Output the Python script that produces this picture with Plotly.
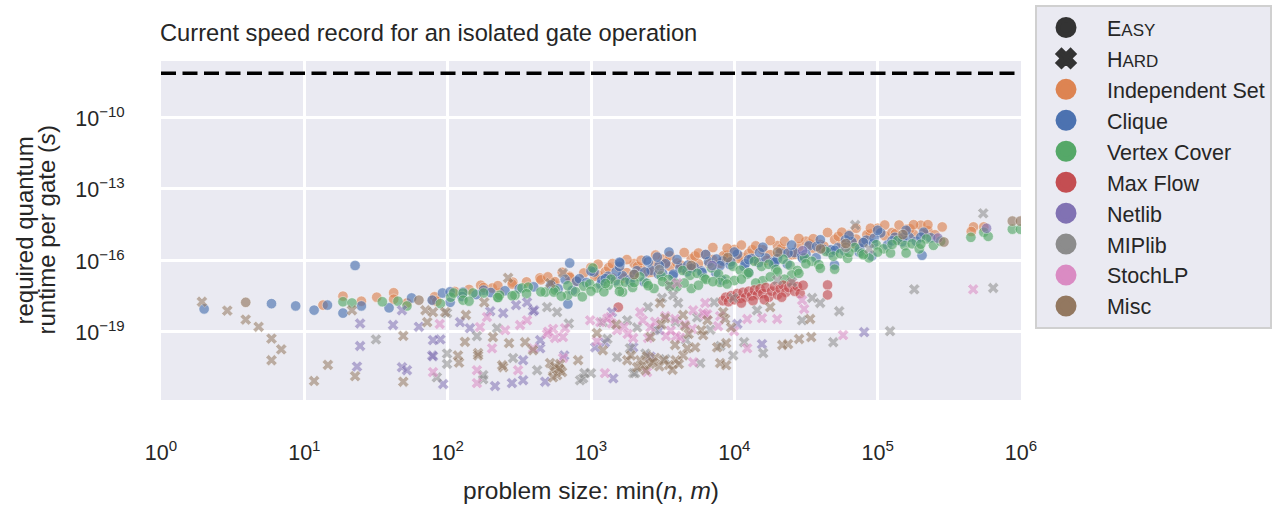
import plotly.graph_objects as go

BG = "#eaeaf2"
TEXT = "#262626"
FONT = "Liberation Sans, Arial, sans-serif"

# ---------------- data ----------------
speed_record = 7.1e-9  # current speed record for an isolated gate operation (s)

categories = ["Independent Set", "Clique", "Vertex Cover", "Max Flow",
              "Netlib", "MIPlib", "StochLP", "Misc"]
palette = ["#DD8452", "#4C72B0", "#55A868", "#C44E52",
           "#8172B3", "#8C8C8C", "#DA8BC3", "#937860"]

x_tickvals = [1, 10, 100, 1e3, 1e4, 1e5, 1e6]
x_ticktext = ["10<sup>0</sup>", "10<sup>1</sup>", "10<sup>2</sup>", "10<sup>3</sup>",
              "10<sup>4</sup>", "10<sup>5</sup>", "10<sup>6</sup>"]
y_tickvals = [1e-19, 1e-16, 1e-13, 1e-10]
y_ticktext = ["10<sup>\u221219</sup>", "10<sup>\u221216</sup>",
              "10<sup>\u221213</sup>", "10<sup>\u221210</sup>"]
y_title_lines = ["required quantum", "runtime per gate (<i>s</i>)"]

# EASY instances (circles): (problem size, runtime per gate)
indep_set_easy = [
    (13.5, 1.3e-18), (18.6, 3.1e-18), (25, 1.9e-18), (32, 2.8e-18), (42, 4.3e-18),
    (42, 2.3e-18), (52, 1.6e-18), (79, 2.1e-18), (81, 2.9e-18), (84, 1.9e-18),
    (170, 8.9e-18), (205, 6.8e-18), (230, 4.2e-18), (285, 1.2e-17), (440, 1.8e-17),
    (545, 1.1e-17),
    (112, 4.9e-18), (141, 5.9e-18), (178, 7.1e-18), (224, 8.5e-18), (282, 1.0e-17),
    (355, 1.23e-17), (447, 1.5e-17), (708, 2.1e-17),
    (500, 2.0e-17), (560, 1.26e-17), (630, 3.1e-17), (710, 1.9e-17), (790, 1.3e-17),
    (890, 2.9e-17), (1000, 5.0e-17), (1120, 2.4e-17), (1260, 3.3e-17), (1410, 1.8e-17),
    (1580, 4.9e-17), (1780, 3.0e-17), (2000, 7.2e-17), (2240, 4.4e-17), (2510, 3.0e-17),
    (2820, 6.5e-17), (3160, 1.1e-16), (3550, 5.5e-17), (3980, 7.6e-17), (4470, 4.2e-17),
    (5010, 1.15e-16), (5620, 7.1e-17), (6310, 1.7e-16), (7080, 1.07e-16), (7940, 7.4e-17),
    (8910, 1.6e-16), (10000, 2.8e-16), (11200, 1.36e-16), (12600, 1.9e-16), (14100, 1.0e-16),
    (15800, 2.75e-16), (17800, 1.7e-16), (20000, 4.1e-16), (22400, 2.5e-16), (25100, 1.7e-16),
    (28200, 3.7e-16), (31600, 6.3e-16), (35500, 3.2e-16), (39800, 4.6e-16), (44700, 2.6e-16),
    (50100, 7.4e-16), (56200, 4.7e-16), (63100, 1.2e-15), (70800, 7.7e-16), (79400, 5.5e-16),
    (89100, 1.25e-15), (100000, 2.2e-15), (112000, 1.07e-15), (126000, 1.45e-15),
    (141000, 7.6e-16), (158000, 2.0e-15), (178000, 1.23e-15), (200000, 2.95e-15),
    (224000, 1.74e-15), (251000, 1.17e-15), (282000, 2.5e-15),
    (1060, 2.1e-17), (1330, 4.9e-17), (1680, 1.8e-17), (2110, 5.4e-17), (2660, 3.2e-17),
    (3350, 8.3e-17), (4220, 6.3e-17), (5310, 1.5e-16), (6680, 7.2e-17), (8410, 1.55e-16),
    (10600, 1.17e-16), (13300, 2.75e-16), (16800, 1.0e-16), (21100, 3.0e-16), (26600, 1.8e-16),
    (33500, 4.8e-16), (42200, 3.9e-16), (53100, 1.0e-15), (66800, 5.1e-16), (84100, 1.17e-15),
    (133000, 1.3e-15), (168000, 2.1e-15), (211000, 1.35e-15),
    (1120, 6.8e-17), (1410, 7.2e-17), (1780, 1.06e-16), (2240, 9.9e-17), (2820, 1.64e-16),
    (3550, 1.55e-16), (4470, 2.1e-16), (5620, 2.0e-16), (7080, 3.4e-16), (8910, 3.2e-16),
    (11200, 4.3e-16), (14100, 4.0e-16), (17800, 6.7e-16), (22400, 6.2e-16), (28200, 8.2e-16),
    (35500, 8.0e-16), (44700, 1.46e-15), (56200, 1.5e-15), (70800, 2.2e-15), (89100, 2.2e-15),
    (112000, 3.0e-15), (141000, 3.0e-15), (178000, 3.1e-15), (224000, 3.1e-15),
    (466000, 2.5e-15), (450000, 1.6e-15), (550000, 2.5e-15),
]

clique_easy = [
    (2, 9e-19), (5.9, 1.5e-18), (8.7, 1.2e-18), (11.7, 8e-19), (14.5, 1.3e-18),
    (18.6, 6e-19), (22.6, 6e-17), (25, 1.2e-18), (39, 1.0e-18), (56, 2.6e-18),
    (78, 2.1e-18), (92, 4.2e-18), (104, 4.7e-18), (104, 1.7e-18), (128, 4.6e-18),
    (178, 5.5e-18), (690, 1.45e-18), (710, 7.6e-17),
    (126, 3.0e-18), (158, 3.6e-18), (200, 4.4e-18), (251, 5.2e-18), (316, 6.3e-18),
    (398, 7.6e-18), (794, 1.3e-17),
    (525, 9.1e-18), (590, 6.3e-18), (660, 1.55e-17), (740, 5.4e-18), (830, 1.66e-17),
    (930, 1.15e-17), (1050, 3.2e-17), (1170, 9.7e-18), (1320, 2.1e-17), (1480, 1.4e-17),
    (1660, 2.2e-17), (1860, 1.5e-17), (2090, 3.6e-17), (2340, 1.25e-17), (2630, 3.8e-17),
    (2950, 2.6e-17), (3310, 7.1e-17), (3720, 2.2e-17), (4170, 4.8e-17), (4680, 3.3e-17),
    (5250, 5.1e-17), (5890, 3.5e-17), (6610, 8.7e-17), (7410, 3.0e-17), (8320, 9.3e-17),
    (9330, 6.5e-17), (10500, 1.8e-16), (11700, 5.4e-17), (13200, 1.17e-16), (14800, 8.0e-17),
    (16600, 1.23e-16), (18600, 8.4e-17), (20900, 2.0e-16), (23400, 7.0e-17), (26300, 2.1e-16),
    (29500, 1.46e-16), (33100, 4.0e-16), (37200, 1.27e-16), (41700, 2.9e-16), (46800, 2.1e-16),
    (52500, 3.3e-16), (58900, 2.4e-16), (66100, 6.0e-16), (74100, 2.2e-16), (83200, 6.9e-16),
    (93300, 5.0e-16), (105000, 1.4e-15), (117000, 4.3e-16), (132000, 9.1e-16),
    (148000, 6.0e-16), (166000, 9.1e-16), (186000, 6.2e-16), (209000, 1.5e-15),
    (234000, 8.7e-16),
    (1190, 1.4e-17), (1500, 3.3e-17), (1880, 1.23e-17), (2370, 3.2e-17), (2990, 6.0e-17),
    (3760, 2.6e-17), (4730, 6.2e-17), (5960, 3.0e-17), (7500, 1.12e-16), (9440, 8.5e-17),
    (11900, 7.1e-17), (15000, 2.1e-16), (18800, 6.9e-17), (23700, 2.0e-16), (29900, 1.2e-16),
    (37600, 3.8e-16), (47300, 2.75e-16), (59600, 7.1e-16), (75000, 3.2e-16), (94400, 8.3e-16),
    (150000, 8.9e-16),
    (1000, 3.5e-17), (1260, 1.66e-17), (1580, 5.5e-17), (2000, 2.6e-17), (2510, 8.5e-17),
    (3160, 2.8e-17), (3980, 1.07e-16), (5010, 4.6e-17), (6310, 1.74e-16), (7940, 5.9e-17),
    (10000, 2.2e-16), (12600, 1.05e-16), (15800, 3.5e-16), (20000, 1.15e-16), (25100, 4.3e-16),
    (31600, 1.8e-16), (39800, 7.2e-16), (50100, 2.6e-16), (63100, 1.07e-15), (79400, 5.5e-16),
    (100000, 1.8e-15), (126000, 6.5e-16), (158000, 1.8e-15), (200000, 9.3e-16),
    (91000, 1.5e-16), (204000, 1.6e-16), (50000, 6.3e-17), (1600, 7.6e-17), (3500, 2.2e-16),
    (2900, 1.35e-16), (8200, 1.45e-17), (12600, 2.9e-17), (19200, 8.3e-17), (1580, 8.3e-17),
    (2450, 1.0e-16),
]

vertex_cover_easy = [
    (18.6, 1.8e-18), (21.5, 1.6e-18), (35, 1.8e-18), (45, 1.9e-18), (52, 1.2e-18),
    (89, 1.5e-18), (105, 2.8e-18), (110, 4.2e-18), (128, 4.2e-18), (128, 2.1e-18),
    (150, 4.2e-18), (178, 4.2e-18), (225, 2.8e-18), (230, 3.4e-18), (295, 3.4e-18),
    (330, 6.8e-18), (365, 7.4e-18), (480, 4.6e-18), (690, 3.4e-18), (1030, 4.7e-17),
    (1320, 8.9e-18), (1660, 4.6e-18),
    (141, 1.9e-18), (224, 2.7e-18), (282, 3.2e-18), (355, 3.9e-18), (447, 4.7e-18),
    (562, 5.6e-18), (891, 8.1e-18),
    (550, 4.6e-18), (620, 3.1e-18), (690, 8.5e-18), (780, 4.7e-18), (870, 2.9e-18),
    (980, 1.0e-17), (1100, 6.8e-18), (1230, 4.7e-18), (1380, 1.6e-17), (1550, 9.8e-18),
    (1740, 1.19e-17), (1950, 7.2e-18), (2190, 2.0e-17), (2450, 1.07e-17), (2750, 6.5e-18),
    (3090, 2.2e-17), (3470, 1.55e-17), (3890, 1.07e-17), (4370, 3.7e-17), (4900, 2.3e-17),
    (5500, 2.8e-17), (6170, 1.74e-17), (6920, 4.8e-17), (7760, 2.6e-17), (8710, 1.6e-17),
    (9770, 5.6e-17), (11000, 3.8e-17), (12300, 2.6e-17), (13800, 9.0e-17), (15500, 5.5e-17),
    (17400, 6.7e-17), (19500, 4.1e-17), (21900, 1.1e-16), (24500, 6.0e-17), (27500, 3.7e-17),
    (30900, 1.26e-16), (34700, 9.0e-17), (38900, 6.5e-17), (43700, 2.3e-16), (49000, 1.48e-16),
    (55000, 1.9e-16), (61700, 1.2e-16), (69200, 3.4e-16), (77600, 1.95e-16), (87100, 1.25e-16),
    (97700, 4.5e-16), (110000, 3.0e-16), (123000, 2.0e-16), (138000, 6.8e-16),
    (155000, 4.1e-16), (174000, 4.9e-16), (195000, 3.0e-16), (219000, 7.8e-16),
    (245000, 4.2e-16), (275000, 6.3e-16),
    (1000, 5.0e-18), (1260, 1.05e-17), (1580, 4.9e-18), (2000, 1.15e-17), (2510, 8.5e-18),
    (3160, 1.26e-17), (3980, 7.6e-18), (5010, 6.5e-18), (6310, 1.55e-17), (7940, 1.17e-17),
    (10000, 1.4e-17), (12600, 3.0e-17), (15800, 1.38e-17), (20000, 3.2e-17), (25100, 2.4e-17),
    (31600, 7.1e-17), (39800, 4.6e-17), (50100, 4.2e-17), (63100, 2.1e-16), (79400, 1.7e-16),
    (100000, 2.2e-16), (126000, 4.6e-16), (158000, 2.0e-16), (200000, 4.7e-16),
    (3550, 7.9e-18), (4470, 1.1e-17), (5620, 8.9e-18), (7080, 1.26e-17), (8910, 1.0e-17),
    (11200, 1.6e-17), (14100, 1.1e-17), (17800, 2.0e-17), (22400, 1.6e-17), (28200, 2.8e-17),
    (447000, 9.1e-16), (550000, 1.5e-15), (590000, 1.0e-15), (870000, 2.0e-15),
    (990000, 2.0e-15),
]

max_flow_easy = [
    (8300, 2.0e-18), (8700, 2.8e-18), (9100, 1.8e-18), (9500, 3.2e-18), (10000, 2.2e-18),
    (10500, 4.0e-18), (11000, 2.5e-18), (11500, 4.5e-18), (12000, 2.8e-18), (12600, 5.0e-18),
    (13200, 3.2e-18), (13800, 5.6e-18), (14500, 3.5e-18), (15100, 6.3e-18), (15800, 4.0e-18),
    (16600, 7.1e-18), (17400, 2.8e-18), (18200, 5.0e-18), (19100, 7.9e-18), (20000, 3.5e-18),
    (20900, 6.3e-18), (21900, 8.9e-18), (22900, 4.5e-18), (24000, 7.1e-18), (25100, 1.0e-17),
    (26300, 5.0e-18), (27500, 7.9e-18), (28800, 4.0e-18), (30200, 8.9e-18), (13500, 2.0e-18),
    (16200, 2.2e-18), (21400, 2.8e-18), (11200, 1.6e-18),
    (44700, 9.1e-18), (44700, 3.5e-18), (1550, 1.07e-18),
]

netlib_easy = [(263000, 8.5e-16), (575000, 2.2e-15), (30000, 2.5e-16), (7000, 6.0e-17)]
miplib_easy = [(3000, 4.0e-17), (60000, 3.5e-16)]
stochlp_easy = []
misc_easy = [
    (3.9, 1.7e-18), (63, 2.1e-18), (290000, 5.8e-16), (870000, 4.4e-15), (990000, 4.4e-15),
    (5000, 6.0e-17), (20000, 2.2e-16), (60000, 5.0e-16), (150000, 1.2e-15), (40000, 3.0e-16),
    (2000, 2.5e-17), (9000, 1.3e-16),
]

# HARD instances (crosses)
netlib_hard = [
    (23.3, 3.4e-21), (24.5, 2.2e-19), (24.5, 2.5e-20), (41.6, 1.9e-19), (48, 3.2e-21),
    (52, 2.4e-21), (48, 7.9e-19), (63, 1.6e-19), (78, 1.0e-20), (89, 4.7e-20),
    (93, 6.3e-22), (122, 2.5e-19), (198, 7.2e-19), (214, 5.2e-22), (336, 9.1e-22),
    (244, 6.0e-19), (394, 7.2e-19), (442, 2.0e-20), (1070, 2.2e-20), (300, 1.3e-18),
    (401, 7.9e-19), (358, 1.7e-18), (79, 4.4e-20), (143, 1.4e-19), (442, 4.4e-20),
    (336, 6.3e-21), (79, 9.3e-21), (281, 6.9e-22), (479, 7.9e-22), (1430, 1.1e-21),
    (1970, 2.2e-20), (1400, 6.6e-19), (2990, 1.15e-19), (10500, 2.1e-19), (15600, 3.0e-20),
    (80500, 9.5e-20), (650, 1.0e-20), (1250, 3.5e-20), (2600, 9.0e-21),
]

miplib_hard = [
    (31.6, 4.7e-20), (99, 1.2e-20), (99, 4.4e-21), (99, 6.0e-19), (177, 1.0e-21),
    (286, 7.8e-21), (494, 1.07e-18), (839, 9.1e-22), (638, 2.9e-17), (160, 6.5e-20),
    (221, 1.4e-19), (580, 6.6e-19), (84, 1.2e-21), (177, 1.5e-21), (421, 2.4e-21),
    (881, 1.1e-21), (1210, 2.5e-19), (1790, 3.0e-19), (2500, 1.07e-18), (1870, 2.0e-20),
    (1520, 8.5e-21), (1970, 1.8e-21), (1000, 1.8e-21), (3130, 2.6e-18), (3740, 3.4e-18),
    (4050, 1.6e-18), (3560, 8.9e-18), (5780, 4.8e-21), (9820, 1.0e-20), (11700, 3.6e-20),
    (7230, 1.7e-18), (9820, 2.6e-18), (14400, 7.9e-19), (15900, 1.26e-20), (19900, 1.45e-17),
    (25300, 1.2e-17), (34900, 2.6e-18), (29700, 3.0e-19), (39700, 1.6e-18), (53900, 7.2e-19),
    (49000, 3.6e-20), (69700, 3.0e-15), (87300, 3.0e-16), (122000, 1.05e-19),
    (180000, 6.0e-18), (545000, 9.3e-15), (640000, 6.8e-18),
    (700, 2.2e-19), (2800, 1.2e-19), (4600, 4.5e-20), (3300, 7.0e-21),
    (900, 1.8e-21), (2030, 1.8e-21), (1300, 5.0e-20), (2100, 1.5e-19), (3900, 2.5e-19),
    (5500, 4.0e-19), (6800, 1.2e-19), (8000, 2.5e-20), (2400, 1.2e-20),
]

stochlp_hard = [
    (88, 2.1e-19), (79, 2.0e-21), (168, 1.55e-19), (204, 2.0e-20), (160, 2.4e-21),
    (160, 6.9e-22), (310, 2.4e-21), (320, 1.9e-19), (561, 5.4e-20), (659, 1.4e-19),
    (188, 4.1e-19), (252, 1.15e-19), (358, 3.0e-19), (394, 2.0e-20), (544, 1.3e-19),
    (494, 7.9e-20), (638, 5.9e-20), (638, 7.8e-21), (986, 3.0e-19), (1160, 2.5e-19),
    (1520, 1.15e-19), (1970, 5.4e-20), (2500, 5.4e-20), (2200, 6.6e-19), (1360, 4.1e-19),
    (1250, 1.8e-21), (2460, 2.0e-21), (3340, 6.5e-20), (3920, 6.5e-20), (5080, 1.3e-19),
    (3860, 3.4e-19), (7710, 1.7e-19), (12300, 3.4e-19), (9970, 1.05e-19), (12300, 2.0e-20),
    (15600, 3.7e-19), (19900, 3.4e-19), (30700, 8.9e-19), (29700, 2.1e-18), (57400, 7.1e-20),
    (5160, 5.2e-21), (6260, 5.0e-19), (6060, 6.0e-19), (6460, 5.4e-19), (6260, 1.6e-18),
    (5160, 7.9e-19), (3990, 1.1e-17), (464000, 6.0e-18), (7960, 4.5e-19), (1300, 3.5e-19),
    (1700, 1.6e-19), (2800, 2.6e-19), (3300, 4.5e-19), (4500, 2.0e-19),
    (502, 1.0e-19), (1100, 4.0e-20), (1400, 2.2e-19), (1800, 8.0e-20), (2300, 3.0e-19),
    (2600, 1.5e-19), (3600, 1.1e-19), (4200, 5.5e-20),
]

misc_hard = [
    (1.93, 1.8e-18), (2.9, 7.6e-19), (3.9, 3.2e-19), (4.8, 1.6e-19), (5.9, 5.1e-20),
    (6.9, 1.8e-20), (5.9, 6.3e-21), (11.7, 8.5e-22), (14.6, 4.0e-21), (22.6, 1.35e-21),
    (21.5, 7.9e-19), (49, 6.6e-20), (49, 7.9e-22), (70, 7.9e-19), (72, 2.5e-19),
    (120, 5.0e-21), (132, 3.7e-20), (163, 1.26e-20), (244, 3.2e-21), (394, 1.66e-20),
    (608, 2.4e-21), (813, 6.3e-21), (264, 1.8e-17), (520, 1.1e-17), (180, 1.7e-18),
    (134, 5.0e-19), (96, 6.6e-19), (79, 6.6e-19), (207, 5.9e-20), (268, 3.3e-20),
    (347, 3.6e-20), (118, 1.0e-20), (163, 1.0e-20), (240, 3.9e-21), (518, 4.8e-21),
    (544, 2.4e-21), (561, 3.5e-21), (580, 1.5e-21), (608, 4.4e-21), (628, 2.0e-21),
    (544, 1.2e-21), (600, 2.8e-21), (1100, 8.7e-20), (1210, 1.66e-20), (1790, 6.3e-21),
    (2200, 6.3e-21), (2310, 3.9e-21), (2460, 9.3e-21), (2580, 4.4e-21), (2800, 7.9e-21),
    (3000, 3.5e-21), (2100, 3.2e-21), (2400, 2.4e-21), (2700, 5.2e-21), (3200, 6.3e-21),
    (3500, 4.0e-21), (3900, 6.3e-21), (4400, 1.0e-20), (3700, 2.5e-21), (4100, 4.4e-21),
    (5870, 1.15e-19), (6060, 7.1e-20), (3860, 2.75e-20), (4690, 2.0e-20), (5330, 2.2e-20),
    (7590, 2.2e-20), (8770, 3.3e-20), (7960, 4.8e-21), (8770, 3.9e-21), (8630, 3.4e-19),
    (8360, 6.6e-19), (4390, 5.0e-19), (4540, 1.7e-19), (3030, 1.6e-18), (3290, 3.7e-19),
    (17800, 1.07e-18), (23700, 3.0e-20), (21600, 2.75e-20), (34400, 5.9e-20),
    (28300, 4.9e-20), (33800, 3.4e-19),
    (1500, 2.0e-19), (2600, 6.0e-20), (3100, 2.0e-19), (4800, 8.0e-20), (6500, 3.0e-19),
    (9500, 1.5e-19), (1900, 1.0e-20),
]

easy_series = [indep_set_easy, clique_easy, vertex_cover_easy, max_flow_easy,
               netlib_easy, miplib_easy, stochlp_easy, misc_easy]
hard_series = [[], [], [], [], netlib_hard, miplib_hard, stochlp_hard, misc_hard]

# ---------------- figure ----------------
fig = go.Figure()

for name, color, pts in zip(categories, palette, easy_series):
    if not pts:
        continue
    fig.add_trace(go.Scatter(
        x=[p[0] for p in pts], y=[p[1] for p in pts], mode="markers",
        marker=dict(symbol="circle", size=10.5, color=color, opacity=0.64,
                    line=dict(color="white", width=0.6)),
        name=name, showlegend=False, hoverinfo="x+y+name"))

for name, color, pts in zip(categories, palette, hard_series):
    if not pts:
        continue
    fig.add_trace(go.Scatter(
        x=[p[0] for p in pts], y=[p[1] for p in pts], mode="markers",
        marker=dict(symbol="x", size=10, color=color, opacity=0.55,
                    line=dict(color="white", width=0.5)),
        name=name, showlegend=False, hoverinfo="x+y+name"))

# legend entries
PAD = "\u00a0\u00a0"
fig.add_trace(go.Scatter(x=[None], y=[None], mode="markers",
                         marker=dict(symbol="circle", size=16, color="#333333",
                                     line=dict(color="#333333", width=5)),
                         name=PAD + "E<span style='font-size:17px'>ASY</span>"))
fig.add_trace(go.Scatter(x=[None], y=[None], mode="markers",
                         marker=dict(symbol="x", size=16, color="#333333",
                                     line=dict(color="#333333", width=3)),
                         name=PAD + "H<span style='font-size:17px'>ARD</span>"))
for name, color in zip(categories, palette):
    fig.add_trace(go.Scatter(x=[None], y=[None], mode="markers",
                             marker=dict(symbol="circle", size=16, color=color,
                                         line=dict(color=color, width=5)),
                             name=PAD + name))

fig.add_hline(y=speed_record, line=dict(color="black", width=3.5, dash="15px,6.5px"))

fig.add_annotation(text="Current speed record for an isolated gate operation",
                   xref="paper", yref="paper", x=-0.003, y=1.0826,
                   xanchor="left", yanchor="middle", showarrow=False,
                   font=dict(size=23.7, color=TEXT, family=FONT))

# y-axis title, two tightly spaced lines (as in the reference)
for line_text, xpos in zip(y_title_lines, [-0.1593, -0.1337]):
    fig.add_annotation(text=line_text, xref="paper", yref="paper", x=xpos, y=0.5,
                       xanchor="center", yanchor="middle", textangle=-90,
                       showarrow=False, font=dict(size=24, color=TEXT, family=FONT))

fig.update_layout(
    width=1281, height=506,
    margin=dict(l=161, r=260, t=61, b=106, autoexpand=False),
    paper_bgcolor="white", plot_bgcolor=BG,
    font=dict(family=FONT, color=TEXT, size=21.5),
    showlegend=True,
    legend=dict(x=1.0163, y=1.1652, xanchor="left", yanchor="top",
                bgcolor=BG, bordercolor="#d0d0d0", borderwidth=2,
                font=dict(size=21.5, color=TEXT, family=FONT),
                itemsizing="trace", traceorder="normal", itemwidth=48,
                maxheight=420),
    xaxis=dict(type="log", range=[0, 6], showgrid=True, gridcolor="white", gridwidth=2.5,
               zeroline=False, showline=False, tickvals=x_tickvals, ticktext=x_ticktext,
               ticks="outside", ticklen=33, tickcolor="rgba(0,0,0,0)",
               tickfont=dict(size=21.5, color=TEXT), automargin=False,
               title=dict(text="problem size: min(<i>n</i>, <i>m</i>)",
                          font=dict(size=24.5, color=TEXT), standoff=18)),
    yaxis=dict(type="log", range=[-21.87, -7.635], showgrid=True, gridcolor="white",
               gridwidth=2.5, zeroline=False, showline=False,
               tickvals=y_tickvals, ticktext=y_ticktext,
               ticks="outside", ticklen=31, tickcolor="rgba(0,0,0,0)",
               ticklabelshift=1,
               tickfont=dict(size=21.5, color=TEXT), automargin=False),
)

fig.write_html("out.html")
